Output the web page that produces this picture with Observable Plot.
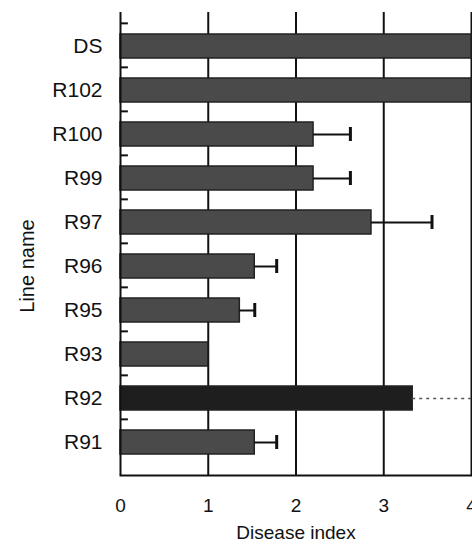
<!DOCTYPE html>
<html>
<head>
<meta charset="utf-8">
<script src="https://cdn.jsdelivr.net/npm/d3@7"></script>
<script src="https://cdn.jsdelivr.net/npm/@observablehq/plot@0.6"></script>
<style>
  html, body { margin: 0; padding: 0; background: #fff; }
  #chart { width: 472px; height: 547px; overflow: hidden; }
  svg { font-family: "Liberation Sans", Arial, sans-serif; }
</style>
</head>
<body>
<div id="chart"></div>
<script>
const lines = ["DS", "R102", "R100", "R99", "R97", "R96", "R95", "R93", "R92", "R91"];
const diseaseIndex = [4.0, 4.0, 2.2, 2.2, 2.86, 1.53, 1.36, 1.0, 3.33, 1.53];
const errorHigh = [null, null, 2.62, 2.62, 3.55, 1.78, 1.53, null, 4.0, 1.78];
const highlight = ["R92"];
const xTicks = [0, 1, 2, 3, 4];
const gridValues = [1, 2, 3, 4];

const data = lines.map((name, i) => ({ name, value: diseaseIndex[i], hi: errorHigh[i] }));
const errs = data.filter(d => d.hi != null && !highlight.includes(d.name));
const errDotted = data.filter(d => d.hi != null && highlight.includes(d.name));

const W = 472, H = 547, mt = 12, mb = 72;
const step = (H - mt - mb) / lines.length;

const chart = Plot.plot({
  width: W,
  height: H,
  marginLeft: 120,
  marginRight: 1,
  marginTop: mt,
  marginBottom: mb,
  style: { fontFamily: "Liberation Sans, Arial, sans-serif", background: "#fff", overflow: "visible" },
  x: { domain: [0, 4], ticks: xTicks },
  y: { domain: lines, padding: 0.46 },
  marks: [
    Plot.ruleX(gridValues, { stroke: "#111", strokeWidth: 2 }),
    Plot.barX(data, {
      x: "value", y: "name",
      fill: d => highlight.includes(d.name) ? "#1e1e1e" : "#4a4a4a",
      stroke: "#222", strokeWidth: 1.5
    }),
    Plot.ruleY(errs, { y: "name", x1: "value", x2: "hi", stroke: "#111", strokeWidth: 2 }),
    Plot.tickX(errs, { x: "hi", y: "name", stroke: "#111", strokeWidth: 3, inset: 5 }),
    Plot.ruleY(errDotted, { y: "name", x1: "value", x2: "hi", stroke: "#555", strokeWidth: 1.5, strokeDasharray: "3,4" }),
    Plot.ruleY(lines, { y: d => d, x1: 0, x2: 0.09, dy: -step / 2, stroke: "#111", strokeWidth: 2 }),
    Plot.ruleX([0], { stroke: "#111", strokeWidth: 2 }),
    Plot.frame({ anchor: "bottom", stroke: "#111", strokeWidth: 2 }),
    Plot.axisY({ tickSize: 0, tickPadding: 18, fontSize: 21, label: null, color: "#111" }),
    Plot.axisX({ tickSize: 0, tickPadding: 23, fontSize: 19, label: null, color: "#111" }),
    Plot.text(["Disease index"], { frameAnchor: "bottom", dy: 63, fontSize: 19, fill: "#111" }),
    Plot.text(["Line name"], { frameAnchor: "left", textAnchor: "middle", dx: -93, dy: 22, rotate: -90, fontSize: 20, fill: "#111" })
  ]
});
document.getElementById("chart").appendChild(chart);
</script>
</body>
</html>
